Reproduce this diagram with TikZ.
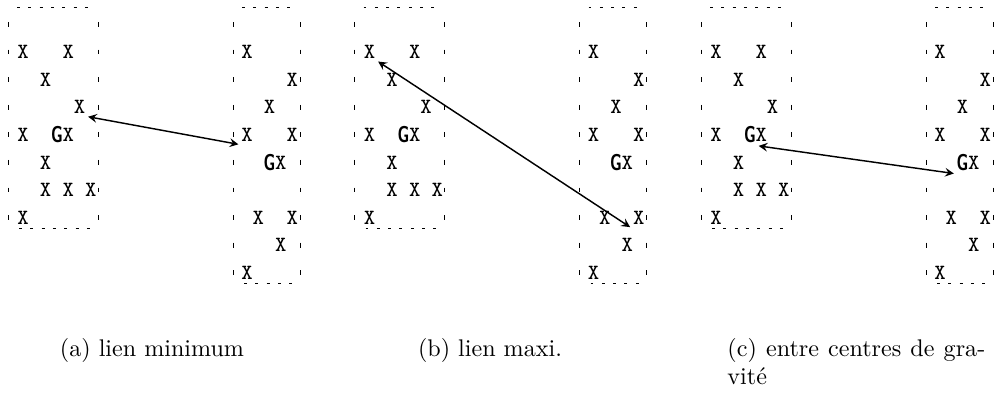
\documentclass[tikz,border=0pt]{standalone}
\usepackage{amsmath,amssymb}
\usepackage{tikz}

% narrow bold centre-of-gravity mark
\newcommand{\gsym}{\scalebox{0.7}[1]{G}}
% dashed frame round one group of points
\newcommand{\grpbox}[4]{%
  \draw[hdash] (#1+9,#2) -- (#3-5,#2) (#1+11,#4) -- (#3-5,#4);
  \draw[vdash] (#1,#2+15) -- (#1,#4-8) (#3,#2+15) -- (#3,#4-8);
}
% the two groups of one panel, #1 = panel letter
\newcommand{\clusters}[1]{%
  \grpbox{8}{7}{98}{228}
  \grpbox{233}{7}{300}{283}
  \foreach \cc/\rr in {0/1,4/1,2/2,5/3,0/4,4/4,2/5,2/6,4/6,6/6,0/7}
    \node[obj] (#1L\cc\rr) at ({23+11.3*\cc},{24.4+27.6*\rr}) {X};
  \node[grav] (#1LG) at ({23+11.3*3},{24.4+27.6*4}) {\gsym};
  \foreach \cc/\rr in {0/1,4/2,2/3,0/4,4/4,3/5,1/7,4/7,3/8,0/9}
    \node[obj] (#1R\cc\rr) at ({247+11.3*\cc},{24.4+27.6*\rr}) {X};
  \node[grav] (#1RG) at ({247+11.3*2},{24.4+27.6*5}) {\gsym};
}

\begin{document}
\begin{tikzpicture}[x=0.415pt,y=-0.415pt,>=stealth,
  obj/.style={font=\fontsize{9}{10}\selectfont\ttfamily,inner sep=1pt},
  grav/.style={font=\fontsize{9.5}{10}\selectfont\sffamily\bfseries,inner sep=1pt},
  hdash/.style={thin,dash pattern=on 1.2pt off 3.5pt},
  vdash/.style={thin,dash pattern=on 2pt off 9.45pt},
  link/.style={<->,semithick},
  subcap/.style={anchor=base,inner sep=0pt}]
\useasboundingbox (0,0) rectangle (995,394);

\clusters{a}
\begin{scope}[shift={(346.5,0)}]
\clusters{b}
\end{scope}
\begin{scope}[shift={(693,0)}]
\clusters{c}
\end{scope}

\draw[link] (aL53.south east) -- (aR04.south west);
\draw[link] (bL01.south east) -- (bR47.south west);
\draw[link] (cLG.south east) -- (cRG.south west);

\node[subcap] (capa) at (152,356) {(a) lien minimum};
\node[subcap] (capb) at (490,356) {(b) lien maxi.};
\node[subcap,anchor=base west,text width=107pt,align=justify] (capc) at (727,356)
  {(c) entre centres de gra-\linebreak vité};
\end{tikzpicture}
\end{document}
